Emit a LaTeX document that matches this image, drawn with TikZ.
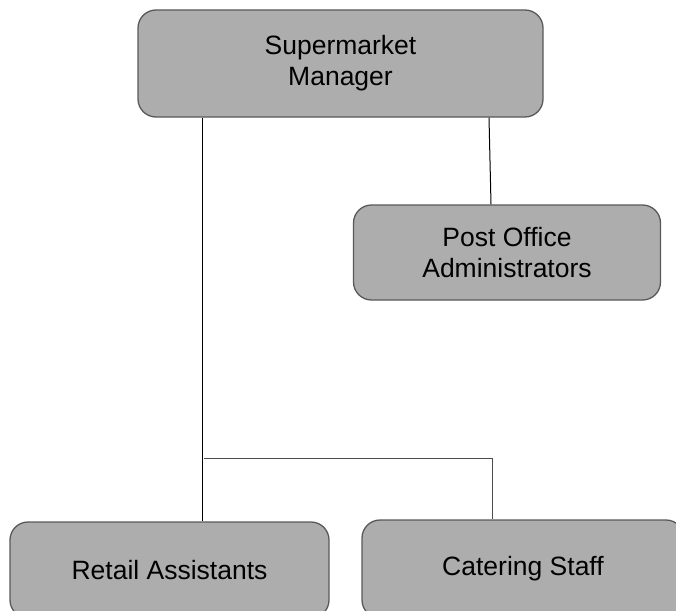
\documentclass[tikz,border=0pt]{standalone}
\usepackage{fontspec}
\setmainfont{Liberation Sans}
\usepackage{tikz}

\begin{document}
\begin{tikzpicture}[x=1pt,y=-1pt,
  role/.style n args={2}{draw=black!65,fill=black!32,line width=1.3pt,rounded corners=18pt,
    minimum width=#1pt,minimum height=#2pt,inner sep=0pt,align=center,
    font=\fontsize{26.5}{31}\selectfont},
  link/.style={draw=black,line width=1pt}]
\useasboundingbox (0,0) rectangle (676,610);
\node[role={405}{107}] (mgr) at (340.5,63.5) {Supermarket\\Manager};
\node[role={307}{95}] (post) at (507,252.5) {Post Office\\Administrators};
\node[role={319}{96}] (retail) at (169.5,570) {Retail Assistants};
\node[role={322}{98}] (catering) at (523,569) {Catering Staff};
\coordinate (split) at (202,458);
\coordinate (turn) at (492,458);
\draw[link] (mgr.south -| split) -- (retail.north -| split);
\draw[link] ([xshift=148.5pt]mgr.south) -- ([xshift=-16pt]post.north);
\draw[link,draw=black!70] ([xshift=1.5pt]split) -- (turn) -- (catering.north -| turn);
\end{tikzpicture}
\end{document}
